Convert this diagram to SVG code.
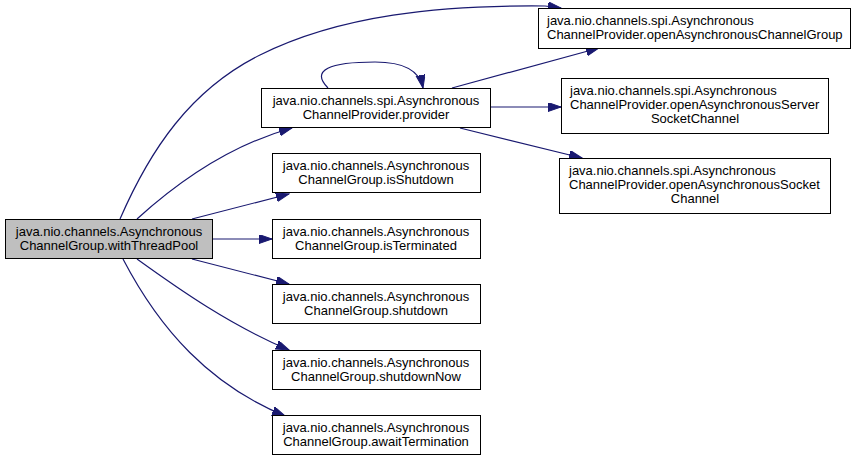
<svg xmlns="http://www.w3.org/2000/svg" width="856" height="461" viewBox="0 0 856 461">
<defs>
<style>
.n rect{fill:#fff;stroke:#000;stroke-width:1}
.n.main rect{fill:#bfbfbf}
text{font-family:"Liberation Sans",Arial,sans-serif;font-size:13px;fill:#000}
.c{text-anchor:middle}
#edges path{fill:none;stroke:#191970;stroke-width:1.2;marker-end:url(#ah)}
</style>
<marker id="ah" markerUnits="userSpaceOnUse" markerWidth="14" markerHeight="10" refX="13" refY="4.5" orient="auto">
<path d="M0,0 L13,4.5 L0,9 z" fill="#191970" stroke="#191970" stroke-width="1"/>
</marker>
</defs>
<rect width="856" height="461" fill="#fff"/>
<g id="edges">
<path d="M120,219 C150,150 190,90 260,55 C340,15 440,5 545,6 L561,8"/>
<path d="M137,219 C180,180 230,145 292,128"/>
<path d="M192,219 L289,194"/>
<path d="M212,239 L272,239"/>
<path d="M192,259 L289,284"/>
<path d="M137,259 C180,290 230,325 289,350"/>
<path d="M123,259 C160,330 210,385 285,416"/>
<path d="M328,88 C310,70 330,62 375,62 C405,62 420,72 423,88"/>
<path d="M452,88 L599,48"/>
<path d="M491,107 L561,107"/>
<path d="M460,128 L582,158"/>
</g>
<g id="node-main" class="n main">
<rect x="5.5" y="219.5" width="207" height="39"/>
<text class="c" x="109" y="236">java.nio.channels.Asynchronous</text>
<text class="c" x="109" y="250">ChannelGroup.withThreadPool</text>
</g>
<g id="node-provider" class="n">
<rect x="261.5" y="88.5" width="229" height="39"/>
<text class="c" x="376" y="105">java.nio.channels.spi.Asynchronous</text>
<text class="c" x="376" y="119">ChannelProvider.provider</text>
</g>
<g id="node-isShutdown" class="n">
<rect x="272.5" y="153.5" width="208" height="39"/>
<text class="c" x="376" y="170">java.nio.channels.Asynchronous</text>
<text class="c" x="376" y="184">ChannelGroup.isShutdown</text>
</g>
<g id="node-isTerminated" class="n">
<rect x="272.5" y="219.5" width="208" height="39"/>
<text class="c" x="376" y="236">java.nio.channels.Asynchronous</text>
<text class="c" x="376" y="250">ChannelGroup.isTerminated</text>
</g>
<g id="node-shutdown" class="n">
<rect x="272.5" y="284.5" width="208" height="39"/>
<text class="c" x="376" y="301">java.nio.channels.Asynchronous</text>
<text class="c" x="376" y="315">ChannelGroup.shutdown</text>
</g>
<g id="node-shutdownNow" class="n">
<rect x="272.5" y="350.5" width="208" height="39"/>
<text class="c" x="376" y="367">java.nio.channels.Asynchronous</text>
<text class="c" x="376" y="381">ChannelGroup.shutdownNow</text>
</g>
<g id="node-awaitTermination" class="n">
<rect x="272.5" y="415.5" width="208" height="39"/>
<text class="c" x="376" y="432">java.nio.channels.Asynchronous</text>
<text class="c" x="376" y="446">ChannelGroup.awaitTermination</text>
</g>
<g id="node-openGroup" class="n">
<rect x="538.5" y="8.5" width="312" height="40"/>
<text x="547" y="25">java.nio.channels.spi.Asynchronous</text>
<text x="547" y="39">ChannelProvider.openAsynchronousChannelGroup</text>
</g>
<g id="node-openServer" class="n">
<rect x="561.5" y="78.5" width="267" height="55"/>
<text x="570" y="95">java.nio.channels.spi.Asynchronous</text>
<text x="570" y="109">ChannelProvider.openAsynchronousServer</text>
<text class="c" x="695" y="123">SocketChannel</text>
</g>
<g id="node-openSocket" class="n">
<rect x="559.5" y="158.5" width="271" height="55"/>
<text x="569" y="175">java.nio.channels.spi.Asynchronous</text>
<text x="569" y="189">ChannelProvider.openAsynchronousSocket</text>
<text class="c" x="695" y="203">Channel</text>
</g>
</svg>
